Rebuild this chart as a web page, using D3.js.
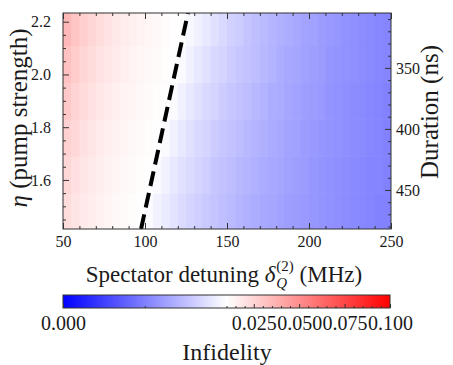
<!DOCTYPE html>
<html>
<head>
<meta charset="utf-8">
<script src="https://cdn.jsdelivr.net/npm/d3@7"></script>
<style>
  body { margin: 0; background: #fff; }
  svg text { font-family: "Liberation Serif", "Times New Roman", serif !important; fill: #1a1a1a; white-space: pre; }
</style>
</head>
<body>
<svg id="chart" width="453" height="365"></svg>
<script>
// Cell edges of the infidelity grid
const detuningEdges = [50, 55, 60, 65, 70, 75, 80, 85, 90, 95, 100, 105, 110, 115, 120, 125, 130, 135, 140, 145,
  150, 155, 160, 165, 170, 175, 180, 185, 190, 195, 200, 205, 210, 215, 220, 225, 230, 235, 240, 245, 250];
const etaEdges = [1.414, 1.55, 1.69, 1.83, 1.97, 2.11, 2.233];

// Infidelity per cell, rows from lowest to highest eta, columns along detuning
const infidelityRow1 = [0.0220, 0.0196, 0.0177, 0.0162, 0.0148, 0.0136, 0.0126, 0.0118, 0.0110, 0.0103,
  0.0098, 0.0095, 0.0092, 0.0089, 0.0086, 0.0083, 0.0081, 0.0079, 0.0077, 0.0075,
  0.0073, 0.0071, 0.0069, 0.0068, 0.0066, 0.0065, 0.0064, 0.0062, 0.0061, 0.0060,
  0.0059, 0.0058, 0.0057, 0.0056, 0.0055, 0.0054, 0.0053, 0.0052, 0.0051, 0.0051];
const infidelityRow2 = [0.0241, 0.0214, 0.0193, 0.0175, 0.0160, 0.0147, 0.0136, 0.0126, 0.0117, 0.0110,
  0.0103, 0.0098, 0.0095, 0.0091, 0.0088, 0.0086, 0.0083, 0.0081, 0.0078, 0.0076,
  0.0074, 0.0072, 0.0071, 0.0069, 0.0067, 0.0066, 0.0065, 0.0063, 0.0062, 0.0061,
  0.0059, 0.0058, 0.0057, 0.0056, 0.0055, 0.0054, 0.0053, 0.0052, 0.0052, 0.0051];
const infidelityRow3 = [0.0263, 0.0233, 0.0209, 0.0189, 0.0172, 0.0158, 0.0145, 0.0134, 0.0125, 0.0117,
  0.0109, 0.0103, 0.0098, 0.0094, 0.0091, 0.0088, 0.0085, 0.0083, 0.0080, 0.0078,
  0.0076, 0.0074, 0.0072, 0.0070, 0.0069, 0.0067, 0.0066, 0.0064, 0.0063, 0.0061,
  0.0060, 0.0059, 0.0058, 0.0057, 0.0056, 0.0055, 0.0054, 0.0053, 0.0052, 0.0051];
const infidelityRow4 = [0.0289, 0.0255, 0.0228, 0.0205, 0.0186, 0.0170, 0.0156, 0.0144, 0.0134, 0.0125,
  0.0116, 0.0109, 0.0103, 0.0098, 0.0094, 0.0091, 0.0088, 0.0085, 0.0083, 0.0080,
  0.0078, 0.0076, 0.0074, 0.0072, 0.0070, 0.0068, 0.0067, 0.0065, 0.0064, 0.0062,
  0.0061, 0.0060, 0.0058, 0.0057, 0.0056, 0.0055, 0.0054, 0.0053, 0.0052, 0.0051];
const infidelityRow5 = [0.0319, 0.0281, 0.0249, 0.0224, 0.0202, 0.0184, 0.0169, 0.0155, 0.0143, 0.0133,
  0.0124, 0.0116, 0.0109, 0.0102, 0.0098, 0.0094, 0.0091, 0.0088, 0.0085, 0.0083,
  0.0080, 0.0078, 0.0076, 0.0074, 0.0072, 0.0070, 0.0068, 0.0066, 0.0065, 0.0063,
  0.0062, 0.0061, 0.0059, 0.0058, 0.0057, 0.0056, 0.0055, 0.0054, 0.0053, 0.0052];
const infidelityRow6 = [0.0351, 0.0307, 0.0272, 0.0243, 0.0219, 0.0199, 0.0182, 0.0167, 0.0154, 0.0142,
  0.0132, 0.0123, 0.0115, 0.0108, 0.0102, 0.0097, 0.0094, 0.0091, 0.0088, 0.0085,
  0.0082, 0.0080, 0.0077, 0.0075, 0.0073, 0.0071, 0.0069, 0.0068, 0.0066, 0.0064,
  0.0063, 0.0061, 0.0060, 0.0059, 0.0057, 0.0056, 0.0055, 0.0054, 0.0053, 0.0052];
const infidelity = [infidelityRow1, infidelityRow2, infidelityRow3, infidelityRow4, infidelityRow5, infidelityRow6];

// Infidelity = 1% contour
const contourDetuning = [97.6, 126.2];
const contourEta = [1.414, 2.233];

// Axis ticks
const detuningTicks = [50, 100, 150, 200, 250];
const detuningMinor = [60, 70, 80, 90, 110, 120, 130, 140, 160, 170, 180, 190, 210, 220, 230, 240];
const etaTicks = [1.6, 1.8, 2.0, 2.2];
const etaMinor = [1.45, 1.5, 1.55, 1.65, 1.7, 1.75, 1.85, 1.9, 1.95, 2.05, 2.1, 2.15];
const durationTicks = [350, 400, 450];
const durationMinor = [310, 320, 330, 340, 360, 370, 380, 390, 410, 420, 430, 440, 460, 470, 480];
const colorbarTicks = [0, 0.025, 0.05, 0.075, 0.1];
const colorbarMinor = [0.005, 0.01, 0.015, 0.02, 0.03, 0.035, 0.04, 0.045, 0.055, 0.06, 0.065, 0.07,
  0.08, 0.085, 0.09, 0.095];

const SERIF = '"Liberation Serif", "Times New Roman", serif';
const svg = d3.select("#chart");
const plot = { left: 63, right: 391, top: 13, bottom: 229 };

const x = d3.scaleLinear().domain([50, 250]).range([plot.left, plot.right]);
const y = d3.scaleLinear().domain([1.414, 2.233]).range([plot.bottom, plot.top]);
const yDuration = d3.scaleLinear().domain([305, 482]).range([plot.top, plot.bottom]);
// Diverging blue-white-red map centred on 1% infidelity
const color = d3.scaleLinear().domain([0, 0.01, 0.1]).range(["#0000ff", "#ffffff", "#ff0000"]).clamp(true);

svg.append("clipPath").attr("id", "plot-clip")
  .append("rect").attr("x", plot.left).attr("y", plot.top)
  .attr("width", plot.right - plot.left).attr("height", plot.bottom - plot.top);

// Heatmap cells
const cells = [];
infidelity.forEach((row, j) => row.forEach((v, i) => cells.push({ i, j, v })));
svg.append("g").attr("clip-path", "url(#plot-clip)")
  .selectAll("rect").data(cells).join("rect")
  .attr("x", d => x(detuningEdges[d.i]))
  .attr("width", d => x(detuningEdges[d.i + 1]) - x(detuningEdges[d.i]) + 0.6)
  .attr("y", d => y(etaEdges[d.j + 1]))
  .attr("height", d => y(etaEdges[d.j]) - y(etaEdges[d.j + 1]) + 0.6)
  .attr("fill", d => color(d.v));

// Dashed contour
svg.append("path")
  .attr("clip-path", "url(#plot-clip)")
  .datum(contourDetuning.map((d, k) => [d, contourEta[k]]))
  .attr("d", d3.line().x(d => x(d[0])).y(d => y(d[1])))
  .attr("fill", "none").attr("stroke", "#000").attr("stroke-width", 4)
  .attr("stroke-dasharray", "15,7");

// Axes with inward ticks
function styleAxis(g, size) {
  g.attr("font-family", SERIF);
  g.select(".domain").remove();
  g.selectAll(".tick line").attr("stroke", "#333").attr("stroke-width", 1);
  g.selectAll(".tick text").attr("fill", "#1a1a1a").style("font-family", SERIF).style("font-size", (size || 16) + "px");
}
svg.append("g").attr("transform", `translate(0,${plot.bottom})`)
  .call(d3.axisBottom(x).tickValues(detuningTicks).tickSize(-6).tickPadding(7).tickFormat(d3.format("d"))).call(styleAxis);
svg.append("g").attr("transform", `translate(0,${plot.bottom})`)
  .call(d3.axisBottom(x).tickValues(detuningMinor).tickSize(-3).tickFormat("")).call(styleAxis);
svg.append("g").attr("transform", `translate(0,${plot.top})`)
  .call(d3.axisTop(x).tickValues(detuningTicks).tickSize(-6).tickFormat("")).call(styleAxis);
svg.append("g").attr("transform", `translate(0,${plot.top})`)
  .call(d3.axisTop(x).tickValues(detuningMinor).tickSize(-3).tickFormat("")).call(styleAxis);
svg.append("g").attr("transform", `translate(${plot.left},0)`)
  .call(d3.axisLeft(y).tickValues(etaTicks).tickSize(-6).tickPadding(12).tickFormat(d3.format(".1f"))).call(styleAxis);
svg.append("g").attr("transform", `translate(${plot.left},0)`)
  .call(d3.axisLeft(y).tickValues(etaMinor).tickSize(-3).tickFormat("")).call(styleAxis);
svg.append("g").attr("transform", `translate(${plot.right},0)`)
  .call(d3.axisRight(yDuration).tickValues(durationTicks).tickSize(-6).tickPadding(5).tickFormat(d3.format("d"))).call(styleAxis);
svg.append("g").attr("transform", `translate(${plot.right},0)`)
  .call(d3.axisRight(yDuration).tickValues(durationMinor).tickSize(-3).tickFormat("")).call(styleAxis);

// Plot frame
svg.append("rect").attr("x", plot.left).attr("y", plot.top)
  .attr("width", plot.right - plot.left).attr("height", plot.bottom - plot.top)
  .attr("fill", "none").attr("stroke", "#333").attr("stroke-width", 1);

// Axis titles
svg.append("text").attr("transform", "translate(27,118) rotate(-90)")
  .attr("text-anchor", "middle").style("font-size", "25px")
  .call(t => { t.append("tspan").attr("font-style", "italic").text("η"); t.append("tspan").text(" (pump strength)"); });

svg.append("text").attr("transform", "translate(438,112) rotate(-90)")
  .attr("text-anchor", "middle").style("font-size", "25px").text("Duration (ns)");

const xl = svg.append("g");
let w = 0;
const part1 = xl.append("text").style("font-size", "23px").text("Spectator detuning ");
w += part1.node().getComputedTextLength();
const delta = xl.append("text").attr("x", w).style("font-size", "23px").attr("font-style", "italic").text("δ");
w += delta.node().getComputedTextLength() + 1;
const sub = xl.append("text").attr("x", w).attr("y", 6).style("font-size", "15px").attr("font-style", "italic").text("Q");
const sup = xl.append("text").attr("x", w).attr("y", -11).style("font-size", "15px").text("(2)");
w += Math.max(sub.node().getComputedTextLength(), sup.node().getComputedTextLength());
const part3 = xl.append("text").attr("x", w).style("font-size", "23px").text(" (MHz)");
w += part3.node().getComputedTextLength();
xl.attr("transform", `translate(${224 - w / 2},282)`);

// Colorbar
const cb = { left: 63, right: 390, top: 295, height: 13 };
const cbScale = d3.scaleLinear().domain([0, 0.01, 0.1]).range([cb.left, (cb.left + cb.right) / 2, cb.right]);
const grad = svg.append("defs").append("linearGradient").attr("id", "bwr");
[["0%", color(0)], ["50%", color(0.01)], ["100%", color(0.1)]].forEach(s =>
  grad.append("stop").attr("offset", s[0]).attr("stop-color", s[1]));
svg.append("rect").attr("x", cb.left).attr("y", cb.top)
  .attr("width", cb.right - cb.left).attr("height", cb.height)
  .attr("fill", "url(#bwr)").attr("stroke", "#333").attr("stroke-width", 1);
svg.append("g").attr("transform", `translate(0,${cb.top + cb.height})`)
  .call(d3.axisBottom(cbScale).tickValues(colorbarTicks).tickSize(-4).tickPadding(8).tickFormat(d3.format(".3f")))
  .call(g => styleAxis(g, 20));
svg.append("g").attr("transform", `translate(0,${cb.top + cb.height})`)
  .call(d3.axisBottom(cbScale).tickValues(colorbarMinor).tickSize(-2).tickFormat("")).call(styleAxis);

svg.append("text").attr("x", 227).attr("y", 360).attr("text-anchor", "middle")
  .style("font-size", "24px").text("Infidelity");
</script>
</body>
</html>
